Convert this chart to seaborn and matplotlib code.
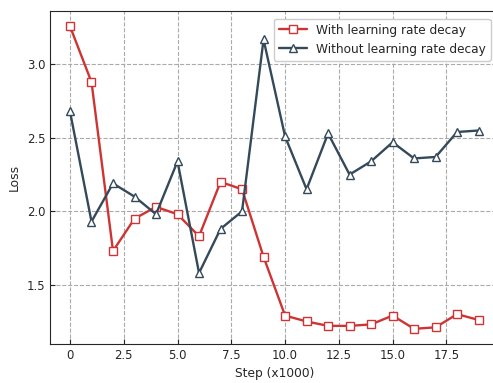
import numpy as np
import pandas as pd
import seaborn as sns
import matplotlib
matplotlib.use("Agg")
import matplotlib.pyplot as plt

steps = list(range(20))
with_decay = [3.26, 2.88, 1.73, 1.95, 2.03, 1.98, 1.83, 2.20, 2.15, 1.69,
              1.29, 1.25, 1.22, 1.22, 1.23, 1.29, 1.20, 1.21, 1.30, 1.26]
without_decay = [2.68, 1.93, 2.19, 2.10, 1.98, 2.34, 1.58, 1.88, 2.00, 3.17,
                 2.51, 2.15, 2.53, 2.25, 2.34, 2.47, 2.36, 2.37, 2.54, 2.55]
labels = ["With learning rate decay", "Without learning rate decay"]
xticks = [0, 2.5, 5.0, 7.5, 10.0, 12.5, 15.0, 17.5]
xticklabels = ["0", "2.5", "5.0", "7.5", "10.0", "12.5", "15.0", "17.5"]

df = pd.DataFrame({
    "step": steps * 2,
    "loss": with_decay + without_decay,
    "series": [labels[0]] * 20 + [labels[1]] * 20,
})

sns.set_style("ticks")
plt.rcParams["font.family"] = ["DejaVu Sans"]

fig = plt.figure(figsize=(4.93, 3.83), dpi=100)
ax = fig.add_axes([0.1014, 0.102, 0.91, 0.869])

colors = {labels[0]: "#cf3434", labels[1]: "#34495a"}
markers = {labels[0]: "s", labels[1]: "^"}
for lab in labels:
    sub = df[df["series"] == lab]
    sns.lineplot(data=sub, x="step", y="loss", ax=ax, color=colors[lab],
                 marker=markers[lab], markersize=6, markerfacecolor="white",
                 markeredgecolor=colors[lab], markeredgewidth=1.0,
                 linewidth=1.7, label=lab)

ax.grid(True, linestyle="--", color="#aaaaaa", linewidth=0.8)
ax.tick_params(direction="in", labelsize=8.4, length=3.5)
ax.set_xticks(xticks)
ax.set_xticklabels(xticklabels)
ax.set_yticks([1.5, 2.0, 2.5, 3.0])
ax.set_xlim(-0.93, 19.93)
ax.spines["right"].set_visible(False)
ax.set_xlabel("Step (x1000)", fontsize=8.8)
ax.set_ylabel("Loss", fontsize=8.8)
ax.legend(loc="upper right", fontsize=8.7, framealpha=1, edgecolor="#cccccc",
          handlelength=2.3, bbox_to_anchor=(0.996, 0.995))

fig.savefig("out.png", dpi=100)
